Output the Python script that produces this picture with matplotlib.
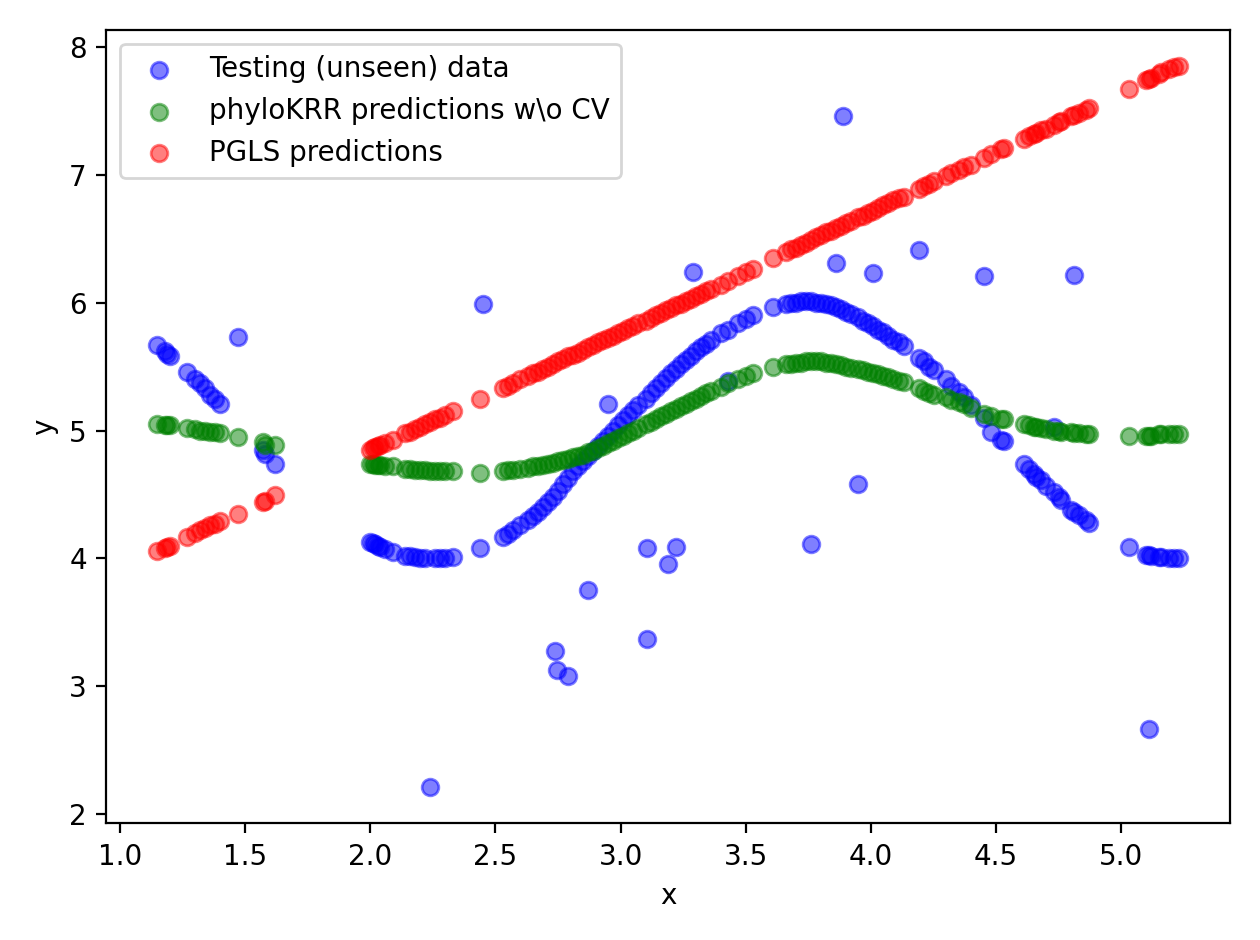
import matplotlib
matplotlib.use("Agg")
import matplotlib.pyplot as plt

x1 = [1.15,1.18,1.19,1.20,1.27,1.30,1.32,1.34,1.36,1.38,1.40,1.47,1.57,1.58,1.62]
b1 = [5.67,5.62,5.60,5.58,5.46,5.40,5.37,5.33,5.28,5.25,5.21,5.73,4.85,4.82,4.74]
g1 = [5.05,5.04,5.04,5.04,5.02,5.01,5.00,5.00,4.99,4.99,4.98,4.95,4.91,4.89,4.89]
r1 = [4.06,4.08,4.09,4.10,4.17,4.20,4.22,4.24,4.26,4.27,4.29,4.35,4.44,4.45,4.50]

x2 = [2.00,2.01,2.02,2.03,2.04,2.06,2.09,2.14,2.16,2.18,2.20,2.22,2.24,2.26,2.28,2.30,2.33]
b2 = [4.13,4.12,4.11,4.10,4.09,4.07,4.05,4.02,4.02,4.01,4.00,4.00,2.21,4.00,4.00,4.00,4.01]
g2 = [4.74,4.74,4.73,4.73,4.73,4.72,4.72,4.70,4.70,4.69,4.69,4.69,4.68,4.68,4.68,4.68,4.68]
r2 = [4.85,4.86,4.87,4.88,4.89,4.90,4.93,4.98,4.99,5.01,5.03,5.05,5.07,5.09,5.10,5.12,5.15]

x3 = [2.44,2.53,2.55,2.57,2.60,2.63,2.65,2.67,2.69,2.71,2.73,2.75,2.77,2.79,2.81,2.83,2.85,2.87,2.89,2.91,
      2.93,2.95,2.97,2.99,3.01,3.03,3.05,3.07,3.10,3.12,3.14,3.16,3.18,3.20,3.22,3.24,3.26,3.28,3.30,3.32,
      3.34,3.36,3.40,3.43,3.47,3.50,3.53]
b3 = [4.08,4.17,4.19,4.22,4.26,4.30,4.33,4.36,4.40,4.44,4.48,4.53,4.58,4.63,4.68,4.72,4.76,4.80,4.84,4.88,
      4.92,4.96,5.00,5.04,5.08,5.12,5.16,5.20,5.25,5.29,5.33,5.37,5.41,5.45,5.48,5.52,5.55,5.58,5.62,5.65,
      5.68,5.71,5.76,5.79,5.84,5.87,5.90]
g3 = [4.67,4.68,4.69,4.69,4.70,4.71,4.72,4.72,4.73,4.74,4.75,4.76,4.77,4.78,4.79,4.80,4.81,4.83,4.84,4.86,
      4.88,4.90,4.92,4.94,4.96,4.98,5.00,5.02,5.05,5.07,5.09,5.11,5.13,5.15,5.17,5.19,5.21,5.23,5.25,5.27,
      5.29,5.31,5.34,5.37,5.40,5.43,5.45]
r3 = [5.25,5.33,5.35,5.37,5.40,5.43,5.45,5.46,5.48,5.50,5.52,5.54,5.56,5.58,5.59,5.61,5.63,5.65,5.67,5.69,
      5.71,5.72,5.74,5.76,5.78,5.80,5.82,5.84,5.86,5.88,5.90,5.92,5.94,5.96,5.98,5.99,6.01,6.03,6.05,6.07,
      6.09,6.11,6.14,6.17,6.21,6.24,6.26]

x4 = [3.61,3.66,3.68,3.70,3.72,3.74,3.76,3.78,3.80,3.82,3.84,3.86,3.88,3.90,3.92,3.95,3.97,3.99,4.01,4.03,
      4.05,4.07,4.09,4.11,4.13,4.19,4.21,4.23,4.25,4.30,4.32,4.35,4.37,4.40]
b4 = [5.97,5.99,6.00,6.00,6.01,6.01,6.01,6.00,6.00,5.99,5.98,5.97,5.95,5.93,5.91,5.89,5.86,5.84,5.82,5.79,
      5.77,5.74,5.71,5.69,5.66,5.57,5.54,5.50,5.47,5.40,5.35,5.30,5.26,5.20]
g4 = [5.50,5.52,5.52,5.53,5.53,5.54,5.54,5.54,5.54,5.53,5.53,5.52,5.51,5.50,5.49,5.48,5.47,5.46,5.45,5.44,
      5.43,5.42,5.40,5.39,5.38,5.33,5.31,5.29,5.28,5.26,5.24,5.22,5.21,5.18]
r4 = [6.35,6.40,6.42,6.43,6.45,6.47,6.49,6.51,6.53,6.55,6.56,6.58,6.60,6.62,6.64,6.67,6.68,6.70,6.72,6.74,
      6.76,6.78,6.80,6.82,6.83,6.89,6.91,6.93,6.95,6.99,7.01,7.04,7.06,7.08]

x5 = [4.45,4.48,4.52,4.53,4.61,4.63,4.65,4.66,4.68,4.70,4.73,4.75,4.76,4.80,4.81,4.83,4.86,4.87]
b5 = [5.10,4.99,4.93,4.92,4.74,4.70,4.66,4.64,4.61,4.57,4.52,4.48,4.46,4.38,4.36,4.34,4.30,4.28]
g5 = [5.13,5.11,5.09,5.09,5.05,5.04,5.03,5.03,5.02,5.01,5.00,5.00,4.99,4.99,4.98,4.98,4.97,4.97]
r5 = [7.13,7.16,7.20,7.21,7.28,7.30,7.32,7.33,7.35,7.36,7.39,7.41,7.42,7.46,7.47,7.48,7.51,7.52]

x6 = [5.03,5.10,5.11,5.12,5.15,5.16,5.19,5.21,5.23]
b6 = [4.09,4.03,4.03,4.02,4.01,4.01,4.00,4.00,4.00]
g6 = [4.96,4.96,4.96,4.96,4.97,4.97,4.97,4.97,4.97]
r6 = [7.67,7.74,7.75,7.76,7.79,7.80,7.83,7.84,7.85]

x_out = [2.45,2.74,2.745,2.79,2.87,2.95,3.105,3.105,3.19,3.22,3.29,3.43,3.76,3.86,3.89,3.95,4.01,4.19,4.45,4.73,4.81,5.11]
y_out = [5.99,3.28,3.13,3.08,3.75,5.21,4.08,3.37,3.96,4.09,6.24,5.39,4.11,6.31,7.46,4.58,6.23,6.41,6.21,5.03,6.22,2.67]

x_all = x1 + x2 + x3 + x4 + x5 + x6
blue = b1 + b2 + b3 + b4 + b5 + b6
green = g1 + g2 + g3 + g4 + g5 + g6
red = r1 + r2 + r3 + r4 + r5 + r6

fig, ax = plt.subplots(figsize=(6.3, 4.7), dpi=200)
ax.scatter(x_all + x_out, blue + y_out, color="blue", alpha=0.5, label="Testing (unseen) data")
ax.scatter(x_all, green, color="green", alpha=0.5, label="phyloKRR predictions w\\o CV")
ax.scatter(x_all, red, color="red", alpha=0.5, label="PGLS predictions")
ax.set_xlabel("x")
ax.set_ylabel("y")
ax.legend(loc="upper left")
fig.tight_layout()
fig.savefig("out.png")
